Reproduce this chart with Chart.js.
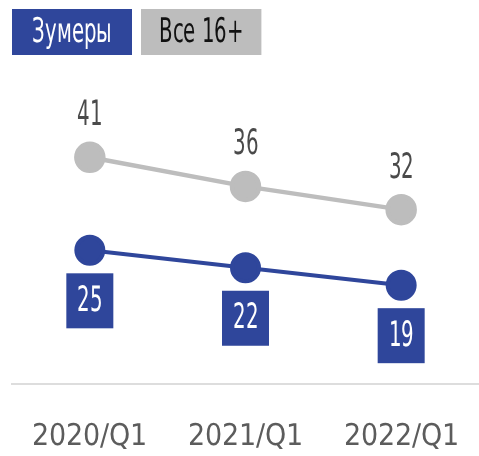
<!DOCTYPE html>
<html>
<head>
<meta charset="utf-8">
<script src="https://cdn.jsdelivr.net/npm/chart.js@4/dist/chart.umd.min.js"></script>
<style>
@font-face {
  font-family: 'NarrowFace';
  src: local('Liberation Sans Narrow'), local('LiberationSansNarrow'), local('LiberationSansNarrow-Regular'),
       local('DejaVu Sans Condensed'), local('DejaVuSansCondensed');
}
html,body{margin:0;padding:0;background:#fff;}
#wrap{width:479px;height:456px;position:relative;}
</style>
</head>
<body>
<div id="wrap"><canvas id="c" width="479" height="456"></canvas></div>
<script>
const categories = ["2020/Q1", "2021/Q1", "2022/Q1"];
const zoomersLabel = "Зумеры";
const allLabel = "Все 16+";
const zoomersValues = [25, 22, 19];
const allValues = [41, 36, 32];

const FONT = "NarrowFace, 'DejaVu Sans', sans-serif";
const BLUE = "#2f469b";
const GRAY = "#bdbdbd";

function condenseFactor(ctx, size) {
  ctx.font = size + "px " + FONT;
  const zeroW = ctx.measureText('0').width;
  return Math.min(1, (0.50 * 0.72 * size) / zeroW);
}
function condensedText(ctx, text, x, y, size) {
  const sx = condenseFactor(ctx, size);
  ctx.save();
  ctx.translate(x, y);
  ctx.scale(sx, 1);
  ctx.fillText(text, 0, 0);
  ctx.restore();
}
function condensedWidth(ctx, text, size) {
  const sx = condenseFactor(ctx, size);
  return ctx.measureText(text).width * sx;
}

const legendPlugin = {
  id: 'boxLegend',
  afterDraw(chart) {
    const ctx = chart.ctx;
    ctx.save();
    ctx.textBaseline = 'middle';
    ctx.textAlign = 'center';
    let x = 12;
    const y = 9, h = 46, size = 34;
    chart.data.datasets.forEach((ds) => {
      const tw = condensedWidth(ctx, ds.label, size);
      const w = Math.max(tw + 36, 120);
      ctx.fillStyle = ds.legendBg;
      ctx.fillRect(x, y, w, h);
      ctx.fillStyle = ds.legendText;
      condensedText(ctx, ds.label, x + w / 2, y + h / 2 + 1, size);
      x += w + 9;
    });
    ctx.restore();
  }
};

const labelPlugin = {
  id: 'valueLabels',
  afterDatasetsDraw(chart) {
    const ctx = chart.ctx;
    ctx.save();
    ctx.textAlign = 'center';
    const size = 35;
    chart.data.datasets.forEach((ds, i) => {
      const meta = chart.getDatasetMeta(i);
      meta.data.forEach((pt, j) => {
        const v = ds.data[j];
        if (ds.labelStyle === 'box') {
          const bw = 47, bh = 55;
          const top = pt.y + 23;
          ctx.fillStyle = BLUE;
          ctx.fillRect(pt.x - bw / 2, top, bw, bh);
          ctx.fillStyle = '#ffffff';
          ctx.textBaseline = 'middle';
          condensedText(ctx, String(v), pt.x, top + bh / 2 + 1, size);
        } else {
          ctx.fillStyle = '#4a4a4a';
          ctx.textBaseline = 'alphabetic';
          condensedText(ctx, String(v), pt.x, pt.y - 32, size);
        }
      });
    });
    ctx.restore();
  }
};

function build() {
  new Chart(document.getElementById('c'), {
    type: 'line',
    data: {
      labels: categories,
      datasets: [
        {
          label: zoomersLabel,
          data: zoomersValues,
          borderColor: BLUE,
          backgroundColor: BLUE,
          pointBackgroundColor: BLUE,
          pointBorderColor: BLUE,
          borderWidth: 4,
          pointRadius: 13.5,
          pointHoverRadius: 13.5,
          legendBg: BLUE,
          legendText: '#ffffff',
          labelStyle: 'box'
        },
        {
          label: allLabel,
          data: allValues,
          borderColor: GRAY,
          backgroundColor: GRAY,
          pointBackgroundColor: GRAY,
          pointBorderColor: GRAY,
          borderWidth: 4.5,
          pointRadius: 13.5,
          pointHoverRadius: 13.5,
          legendBg: GRAY,
          legendText: '#111111',
          labelStyle: 'text'
        }
      ]
    },
    options: {
      responsive: false,
      animation: false,
      clip: false,
      layout: { autoPadding: false, padding: { top: 105, left: 12, right: -4, bottom: 0 } },
      plugins: {
        legend: { display: false },
        tooltip: { enabled: false }
      },
      scales: {
        x: {
          offset: true,
          grid: { display: false, drawTicks: false },
          border: { display: true, color: '#dddddd', width: 2 },
          ticks: {
            color: '#5c5c5c',
            font: { family: FONT, size: 30 },
            padding: 35,
            maxRotation: 0,
            autoSkip: false
          },
          afterFit(scale) {
            scale.height = 72;
            scale.paddingLeft = 0;
            scale.paddingRight = 0;
          }
        },
        y: {
          display: false,
          min: 2,
          max: 50
        }
      }
    },
    plugins: [legendPlugin, labelPlugin]
  });
}

if (document.fonts && document.fonts.load) {
  document.fonts.load("30px NarrowFace").then(build, build);
} else {
  build();
}
</script>
</body>
</html>
